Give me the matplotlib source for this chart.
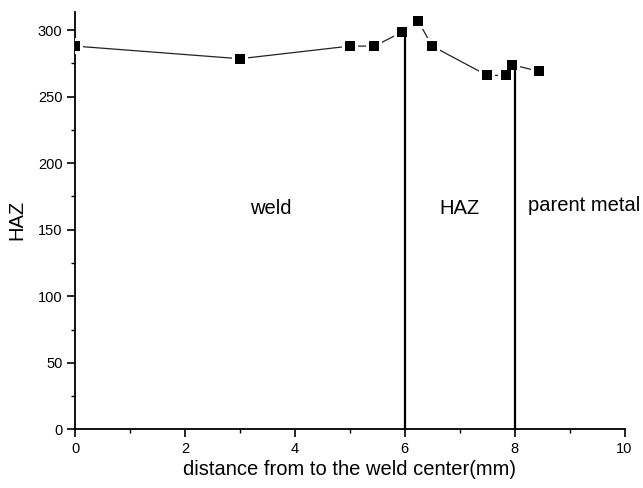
import matplotlib
matplotlib.use("Agg")
import matplotlib.pyplot as plt
from matplotlib.ticker import MultipleLocator

plt.rcParams['font.family'] = ['Liberation Sans', 'DejaVu Sans']

# data
distance = [0, 3, 5, 5.45, 5.95, 6.25, 6.5, 7.5, 7.85, 7.95, 8.45]
hardness = [288, 278.5, 288, 288, 298.5, 306.5, 288, 266, 266, 274, 269]
boundary_x = [6, 8]
boundary_top = [298.5, 274]
region_labels = ["weld", "HAZ", "parent metal"]
region_label_x = [3.19, 6.63, 8.25]
region_label_y = [166, 166, 168]

fig = plt.figure(figsize=(6.43, 4.88), dpi=100)
ax = fig.add_axes([75/643, 1 - 429.3/488, (624.5-75)/643, (429.3-11.5)/488])

ax.plot(distance, hardness, color='#222222', lw=0.9, zorder=2)
ax.scatter(distance, hardness, marker='s', s=11**2, color='white', zorder=3, linewidths=0)
ax.vlines(boundary_x, 0, boundary_top, color='black', lw=1.6, zorder=4)
ax.scatter(distance, hardness, marker='s', s=7.4**2, color='black', zorder=5, linewidths=0)

for t, x, y in zip(region_labels, region_label_x, region_label_y):
    ax.text(x, y, t, fontsize=14.5, ha='left', va='center', clip_on=False)

ax.set_xlim(0, 10)
ax.set_ylim(0, 314)
ax.xaxis.set_major_locator(MultipleLocator(2))
ax.xaxis.set_minor_locator(MultipleLocator(1))
ax.yaxis.set_major_locator(MultipleLocator(50))
ax.yaxis.set_minor_locator(MultipleLocator(25))

for s in ['top', 'right']:
    ax.spines[s].set_visible(False)
for s in ['left', 'bottom']:
    ax.spines[s].set_linewidth(1.3)

ax.tick_params(which='major', direction='out', length=6, width=1.2, labelsize=10.5, pad=3)
ax.tick_params(which='minor', direction='out', length=3, width=1.0)

ax.set_xlabel("distance from to the weld center(mm)", fontsize=14.5, labelpad=3)
ax.set_ylabel("HAZ", fontsize=14.5, labelpad=8)

fig.savefig("out.png", dpi=100)
